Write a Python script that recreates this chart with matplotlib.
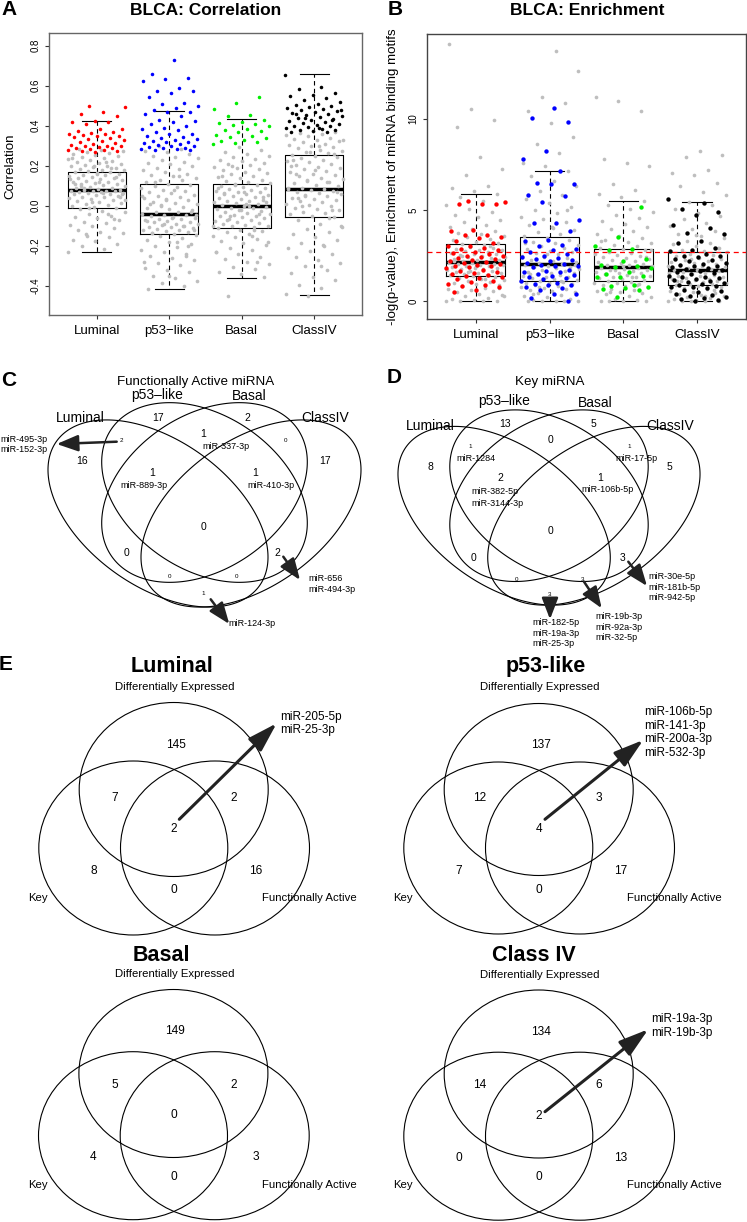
import numpy as np
import matplotlib
matplotlib.use('Agg')
import matplotlib.pyplot as plt
from matplotlib.patches import Ellipse, Polygon

plt.rcParams['font.family'] = ['Liberation Sans', 'DejaVu Sans']

W, H = 747, 1222

groups = ['Luminal', 'p53\u2212like', 'Basal', 'ClassIV']
point_cols = ['#ff0000', '#0000ff', '#00ee00', '#000000']
gray = '#bebebe'

# ---- panel A: correlation (box summaries) ----
corr_whislo = [-0.23, -0.415, -0.36, -0.447]
corr_q1 = [-0.01, -0.143, -0.11, -0.058]
corr_med = [0.077, -0.043, -0.002, 0.085]
corr_q3 = [0.17, 0.107, 0.108, 0.253]
corr_whishi = [0.425, 0.473, 0.433, 0.657]

corr_gray_lum = [-0.23, -0.214, -0.203, -0.192, -0.178, -0.171, -0.158, -0.149, -0.137, -0.131, -0.12, -0.113, -0.102,
                 -0.094, -0.088, -0.079, -0.071, -0.063, -0.055, -0.049, -0.041, -0.033, -0.026, -0.018, -0.012,
                 -0.006, 0.0, 0.005, 0.011, 0.014, 0.021, 0.024, 0.029, 0.035, 0.038, 0.043, 0.046, 0.05, 0.053, 0.057,
                 0.06, 0.063, 0.066, 0.068, 0.07, 0.072, 0.074, 0.075, 0.076, 0.078, 0.081, 0.085, 0.088, 0.091,
                 0.096, 0.1, 0.103, 0.107, 0.111, 0.114, 0.118, 0.121, 0.126, 0.129, 0.132, 0.137, 0.141, 0.144,
                 0.149, 0.153, 0.156, 0.161, 0.163, 0.167, 0.17, 0.173, 0.177, 0.181, 0.184, 0.189, 0.192, 0.197,
                 0.201, 0.205, 0.211, 0.214, 0.219, 0.226, 0.229, 0.236, 0.241, 0.246, 0.249, 0.256, 0.261, 0.266,
                 0.27, 0.276, 0.281, 0.286, -0.065, 0.02, 0.135, 0.22, 0.09, 0.045, 0.16, 0.11, 0.19, -0.01,
                 0.03, 0.065, 0.1, 0.145, 0.2, 0.24, -0.04, -0.14, 0.058, 0.12]
corr_gray_p53 = [-0.415, -0.402, -0.388, -0.377, -0.36, -0.352, -0.333, -0.322, -0.31, -0.298, -0.284, -0.272, -0.261,
                 -0.249, -0.241, -0.229, -0.222, -0.208, -0.2, -0.191, -0.182, -0.17, -0.161, -0.153, -0.146,
                 -0.141, -0.137, -0.131, -0.128, -0.123, -0.119, -0.117, -0.111, -0.107, -0.104, -0.099, -0.095,
                 -0.091, -0.089, -0.083, -0.079, -0.077, -0.071, -0.067, -0.065, -0.059, -0.055, -0.052, -0.047,
                 -0.044, -0.039, -0.033, -0.029, -0.021, -0.017, -0.009, -0.005, 0.003, 0.007, 0.015, 0.019, 0.027,
                 0.031, 0.039, 0.043, 0.051, 0.055, 0.063, 0.067, 0.075, 0.079, 0.087, 0.092, 0.099, 0.104,
                 0.111, 0.117, 0.127, 0.131, 0.141, 0.147, 0.156, 0.161, 0.171, 0.177, 0.186, 0.191, 0.201, 0.207,
                 0.216, 0.221, 0.231, 0.237, 0.246, 0.251, 0.261, 0.267, 0.276, 0.284, 0.3, -0.12, -0.06, 0.01,
                 -0.25, -0.09, 0.05, -0.18, 0.12, -0.03, -0.35, -0.075, -0.1, 0.0, -0.045, 0.08, -0.135, -0.2,
                 0.035, -0.28, 0.15]
corr_gray_bas = [-0.452, -0.358, -0.342, -0.331, -0.318, -0.304, -0.292, -0.281, -0.266, -0.255, -0.243, -0.232, -0.221,
                 -0.209, -0.198, -0.188, -0.176, -0.168, -0.157, -0.149, -0.14, -0.133, -0.126, -0.119, -0.113,
                 -0.108, -0.103, -0.099, -0.094, -0.089, -0.085, -0.08, -0.075, -0.071, -0.066, -0.062, -0.058,
                 -0.053, -0.049, -0.044, -0.04, -0.035, -0.031, -0.026, -0.022, -0.017, -0.013, -0.009, -0.005,
                 -0.001, 0.004, 0.008, 0.013, 0.017, 0.022, 0.026, 0.031, 0.035, 0.04, 0.044, 0.049, 0.053, 0.058,
                 0.062, 0.067, 0.071, 0.076, 0.08, 0.085, 0.089, 0.094, 0.098, 0.103, 0.106, 0.112, 0.118, 0.125,
                 0.131, 0.138, 0.144, 0.151, 0.157, 0.164, 0.17, 0.177, 0.183, 0.19, 0.196, 0.203, 0.209, 0.216,
                 0.222, 0.229, 0.236, 0.243, 0.251, 0.259, 0.268, 0.279, 0.295, -0.23, -0.15, -0.05, 0.02, 0.07,
                 0.15, -0.28, 0.11, -0.1, 0.0, -0.07, 0.045, -0.02, 0.09, -0.12, 0.2, -0.18, 0.01, 0.06, -0.04]
corr_gray_c4 = [-0.451, -0.443, -0.41, -0.395, -0.371, -0.355, -0.338, -0.319, -0.301, -0.288, -0.271, -0.255, -0.239,
                -0.226, -0.211, -0.198, -0.184, -0.171, -0.158, -0.143, -0.131, -0.118, -0.104, -0.089, -0.071,
                -0.055, -0.049, -0.042, -0.035, -0.029, -0.021, -0.015, -0.009, -0.002, 0.004, 0.011, 0.017,
                0.023, 0.029, 0.035, 0.041, 0.047, 0.053, 0.059, 0.064, 0.069, 0.074, 0.078, 0.082, 0.085, 0.091,
                0.098, 0.105, 0.112, 0.119, 0.126, 0.133, 0.14, 0.147, 0.154, 0.161, 0.168, 0.175, 0.182, 0.189,
                0.196, 0.203, 0.21, 0.217, 0.224, 0.231, 0.238, 0.245, 0.25, 0.256, 0.262, 0.268, 0.275, 0.281,
                0.287, 0.293, 0.299, 0.305, 0.311, 0.317, 0.323, 0.329, 0.335, 0.341, 0.347, 0.353, 0.359, 0.364,
                0.369, 0.372, 0.2, 0.12, 0.05, -0.1, 0.3, 0.16, -0.02, 0.27, 0.09, -0.2, 0.0, 0.07, 0.18, 0.23,
                -0.06, 0.13, 0.33, -0.3, 0.04, 0.26]

corr_red = [0.497, 0.492, 0.47, 0.46, 0.45, 0.425, 0.42, 0.42, 0.41, 0.385, 0.383, 0.375, 0.37, 0.365, 0.36, 0.36, 0.355,
            0.35, 0.35, 0.345, 0.34, 0.333, 0.33, 0.325, 0.32, 0.315, 0.31, 0.305, 0.3, 0.3, 0.298, 0.295, 0.29, 0.29,
            0.285, 0.28, 0.28, 0.275, 0.275, 0.27]
corr_blue = [0.73, 0.66, 0.64, 0.635, 0.625, 0.59, 0.575, 0.575, 0.565, 0.545, 0.515, 0.51, 0.5, 0.49, 0.48, 0.47,
             0.47, 0.46, 0.45, 0.43, 0.425, 0.42, 0.41, 0.4, 0.39, 0.385, 0.38, 0.37, 0.36, 0.36, 0.35, 0.345, 0.34,
             0.335, 0.33, 0.325, 0.32, 0.32, 0.315, 0.31, 0.305, 0.3, 0.3, 0.295, 0.29, 0.29, 0.285, 0.285, 0.28, 0.28]
corr_green = [0.545, 0.515, 0.485, 0.455, 0.45, 0.43, 0.42, 0.415, 0.41, 0.405, 0.4, 0.385, 0.38, 0.375, 0.37, 0.355,
              0.35, 0.345, 0.34, 0.33, 0.325, 0.32, 0.315, 0.31]
corr_black = [0.655, 0.595, 0.585, 0.565, 0.555, 0.55, 0.54, 0.53, 0.52, 0.51, 0.505, 0.5, 0.495, 0.49, 0.485, 0.48,
              0.475, 0.47, 0.465, 0.46, 0.455, 0.45, 0.445, 0.44, 0.435, 0.43, 0.425, 0.42, 0.415, 0.41, 0.405, 0.4,
              0.4, 0.395, 0.39, 0.385, 0.38, 0.38, 0.375, 0.37, 0.37, 0.44, 0.48, 0.39, 0.46, 0.43]

# ---- panel B: enrichment ----
enr_whislo = [0, 0, 0, 0]
enr_q1 = [1.37, 1.08, 1.08, 0.90]
enr_med = [2.16, 2.03, 1.85, 1.68]
enr_q3 = [3.14, 3.53, 2.85, 2.71]
enr_whishi = [5.85, 7.15, 5.48, 5.41]
enr_cutoff = 2.67

enr_gray_lum = [0, 0, 0, 0, 0.04, 0.12, 0.19, 0.27, 0.33, 0.41, 0.48, 0.56, 0.62, 0.69, 0.74, 0.81, 0.88, 0.93, 0.99,
                1.04, 1.1, 1.16, 1.21, 1.27, 1.33, 1.38, 1.42, 1.46, 1.5, 1.53, 1.57, 1.61, 1.64, 1.67, 1.71, 1.74,
                1.78, 1.81, 1.84, 1.88, 1.91, 1.94, 1.97, 2.0, 2.03, 2.06, 2.09, 2.12, 2.15, 2.19, 2.23, 2.27, 2.31,
                2.36, 2.4, 2.44, 2.48, 2.52, 2.57, 2.61, 2.65, 2.69, 2.74, 2.78, 2.82, 2.87, 2.91, 2.96, 3.01, 3.06,
                3.12, 3.19, 3.26, 3.33, 3.41, 3.49, 3.58, 3.67, 3.76, 3.86, 3.97, 4.08, 4.19, 4.32, 4.45, 4.59,
                4.74, 4.9, 5.08, 5.27, 5.49, 5.7, 5.85, 6.05, 6.2, 6.3, 6.9, 7.25, 7.9, 9.55, 9.95, 10.55, 14.1,
                1.2, 2.5, 0.7, 1.9, 2.2, 3.0, 1.6, 0.3]
enr_gray_p53 = [0, 0, 0, 0, 0, 0.05, 0.13, 0.2, 0.28, 0.35, 0.42, 0.49, 0.55, 0.61, 0.67, 0.72, 0.78, 0.83, 0.88, 0.93,
                0.98, 1.02, 1.06, 1.1, 1.15, 1.2, 1.25, 1.3, 1.34, 1.39, 1.43, 1.48, 1.52, 1.57, 1.61, 1.66, 1.71,
                1.75, 1.8, 1.85, 1.89, 1.94, 1.99, 2.04, 2.1, 2.16, 2.22, 2.28, 2.35, 2.42, 2.49, 2.56, 2.63, 2.7,
                2.77, 2.84, 2.92, 3.0, 3.08, 3.17, 3.26, 3.36, 3.46, 3.56, 3.67, 3.79, 3.92, 4.05, 4.19, 4.33, 4.48,
                4.64, 4.81, 4.99, 5.18, 5.38, 5.59, 5.82, 6.06, 6.32, 6.6, 6.88, 7.15, 7.4, 7.6, 8.1, 8.6, 9.0,
                9.75, 10.45, 10.85, 11.2, 12.6, 13.7, 0.4, 1.7, 2.6, 3.2, 1.1, 0.8, 2.0, 4.0, 1.5, 5.0]
enr_gray_bas = [0, 0, 0, 0, 0.06, 0.14, 0.22, 0.3, 0.37, 0.44, 0.5, 0.57, 0.63, 0.69, 0.75, 0.81, 0.87, 0.92, 0.97,
                1.02, 1.07, 1.11, 1.16, 1.21, 1.26, 1.31, 1.35, 1.4, 1.44, 1.48, 1.52, 1.56, 1.6, 1.64, 1.68, 1.72,
                1.76, 1.8, 1.84, 1.88, 1.92, 1.96, 2.0, 2.05, 2.1, 2.15, 2.2, 2.25, 2.3, 2.36, 2.42, 2.48, 2.54,
                2.6, 2.66, 2.72, 2.79, 2.86, 2.93, 3.01, 3.09, 3.18, 3.27, 3.37, 3.47, 3.58, 3.7, 3.82, 3.95, 4.09,
                4.23, 4.38, 4.54, 4.71, 4.89, 5.08, 5.28, 5.48, 5.7, 5.9, 6.1, 6.4, 7.4, 7.55, 7.8, 10.45, 10.95,
                11.2, 1.3, 0.5, 2.4, 1.9, 3.3, 0.9, 1.7, 2.8]
enr_gray_c4 = [0, 0, 0, 0, 0, 0.04, 0.1, 0.16, 0.22, 0.28, 0.34, 0.4, 0.46, 0.52, 0.58, 0.64, 0.7, 0.76, 0.82, 0.87,
               0.92, 0.96, 1.0, 1.04, 1.08, 1.12, 1.16, 1.2, 1.24, 1.28, 1.32, 1.36, 1.4, 1.44, 1.48, 1.52, 1.56,
               1.6, 1.64, 1.68, 1.72, 1.77, 1.82, 1.87, 1.92, 1.97, 2.02, 2.08, 2.14, 2.2, 2.26, 2.32, 2.39, 2.46,
               2.53, 2.6, 2.67, 2.75, 2.83, 2.92, 3.01, 3.11, 3.21, 3.32, 3.44, 3.56, 3.69, 3.83, 3.98, 4.14, 4.3,
               4.48, 4.66, 4.85, 5.05, 5.25, 5.41, 5.8, 6.0, 6.3, 6.5, 6.9, 7.0, 7.2, 7.9, 8.0, 8.24, 1.1, 0.6,
               2.3, 1.9, 0.3, 1.4, 2.9, 3.6]

enr_red = [5.5, 5.45, 5.35, 5.3, 5.3, 3.9, 3.85, 3.65, 3.6, 3.5, 3.45, 3.3, 3.2, 3.05, 3.0, 2.9, 2.85, 2.8, 2.7, 2.65,
           2.6, 2.5, 2.45, 2.4, 2.35, 2.3, 2.25, 2.2, 2.15, 2.1, 2.05, 2.0, 1.95, 1.9, 1.85, 1.8, 1.7, 1.65, 1.6, 1.55,
           1.5, 1.45, 1.4, 1.3, 1.25, 1.2, 1.1, 1.05, 0.95, 0.9, 0.85, 0.8, 0.6, 0.5]
enr_blue = [10.6, 10.05, 9.85, 8.25, 7.8, 7.15, 6.5, 6.4, 6.4, 5.8, 5.75, 5.45, 4.45, 4.3, 4.3, 3.85, 3.35, 3.3,
            3.1, 3.05, 2.85, 2.8, 2.7, 2.6, 2.5, 2.4, 2.35, 2.3, 2.25, 2.2, 2.1, 2.05, 2.0, 1.95, 1.9, 1.85, 1.7,
            1.65, 1.6, 1.6, 1.5, 1.45, 1.4, 1.3, 1.25, 1.2, 1.1, 1.0, 0.95, 0.9, 0.9, 0.8, 0.7, 0.6, 0.4, 0.4,
            0.15, 0.0]
enr_green = [5.15, 3.5, 3.05, 2.85, 2.8, 2.3, 2.2, 2.0, 1.95, 1.85, 1.8, 1.6, 1.5, 1.4, 1.35, 1.3, 0.9, 0.85,
             0.75, 0.7, 0.65, 0.6, 0.2]
enr_black = [5.6, 5.4, 5.05, 4.9, 4.7, 4.2, 4.0, 3.75, 3.7, 3.3, 3.2, 2.9, 2.8, 2.75, 2.6, 2.5, 2.45, 2.4, 2.3,
             2.25, 2.2, 2.1, 2.05, 2.0, 1.95, 1.9, 1.85, 1.8, 1.75, 1.7, 1.65, 1.6, 1.55, 1.5, 1.4, 1.35, 1.3,
             1.25, 1.2, 1.15, 1.1, 1.05, 1.0, 0.95, 0.9, 0.85, 0.8, 0.75, 0.7, 0.6, 0.55, 0.5, 0.4, 0.35, 0.3,
             0.2, 0.15, 0.1, 0.05, 0.0]

# ---- panels C/D: four-set Venn counts ----
quad_regions = ['B', 'C', 'A', 'D', 'AB', 'BC', 'CD', 'ABC', 'BCD', 'ABCD', 'AC', 'BD', 'ACD', 'ABD', 'AD']
fa_counts = [17, 2, 16, 17, 2, 1, 0, 1, 1, 0, 0, 2, 0, 0, 1]
key_counts = [13, 5, 8, 5, 1, 0, 1, 2, 1, 0, 0, 3, 0, 3, 3]
set_names = ['Luminal', 'p53\u2013like', 'Basal', 'ClassIV']

# ---- panel E: three-set Venn counts ----
# order: DE only, DE&Key, DE&FA, all, Key only, FA only, Key&FA
e_titles = ['Luminal', 'p53-like', 'Basal', 'Class IV']
e_counts = [[145, 7, 2, 2, 8, 16, 0],
            [137, 12, 3, 4, 7, 17, 0],
            [149, 5, 2, 0, 4, 3, 0],
            [134, 14, 6, 2, 0, 13, 0]]
e_mirs = [['miR-205-5p', 'miR-25-3p'],
          ['miR-106b-5p', 'miR-141-3p', 'miR-200a-3p', 'miR-532-3p'],
          [],
          ['miR-19a-3p', 'miR-19b-3p']]

fig = plt.figure(figsize=(W / 100, H / 100), dpi=100)


def px_axes(l, t, r, b):
    return fig.add_axes([l / W, 1 - b / H, (r - l) / W, (b - t) / H])


def jit(n, phase):
    return ((np.arange(n) * 0.6180339887 + phase) % 1.0 - 0.5) * 0.8


def box_panel(ax, lo, q1, med, q3, hi, grays, cols, s_gray, s_col, lw_med, frame):
    stats = [dict(med=med[i], q1=q1[i], q3=q3[i], whislo=lo[i], whishi=hi[i], fliers=[]) for i in range(4)]
    ax.bxp(stats, positions=[1, 2, 3, 4], widths=0.8, showfliers=False, capwidths=0.4,
           boxprops=dict(color='black', lw=0.8), medianprops=dict(color='black', lw=lw_med, solid_capstyle='butt'),
           whiskerprops=dict(color='black', lw=0.8, ls=(0, (4, 3))), capprops=dict(color='black', lw=0.8))
    for i, g in enumerate(grays):
        ax.scatter(i + 1 + jit(len(g), 0.13 * i), g, s=s_gray, color=gray, lw=0, zorder=3)
    for i, c in enumerate(cols):
        ax.scatter(i + 1 + jit(len(c), 0.37 + 0.21 * i), c, s=s_col, color=point_cols[i], lw=0, zorder=4)
    ax.set_xlim(0.34, 4.66)
    ax.set_xticks([1, 2, 3, 4])
    ax.set_xticklabels(groups, fontsize=9.5)
    for sp in ax.spines.values():
        sp.set_color(frame)
        sp.set_linewidth(1.0)
    ax.tick_params(axis='x', length=3, width=0.8, pad=4, color='#333333')
    ax.tick_params(axis='y', length=3, width=0.8, pad=3, labelsize=7, color='#333333')


def rotate_ylabels(ax):
    for lab in ax.get_yticklabels():
        lab.set_rotation(90)
        lab.set_va('center')


axA = px_axes(49, 33, 362, 315)
box_panel(axA, corr_whislo, corr_q1, corr_med, corr_q3, corr_whishi,
          [corr_gray_lum, corr_gray_p53, corr_gray_bas, corr_gray_c4],
          [corr_red, corr_blue, corr_green, corr_black], 7, 6.5, 2.5, '#666666')
axA.set_ylim(-0.5465, 0.8635)
axA.set_yticks([-0.4, -0.2, 0.0, 0.2, 0.4, 0.6, 0.8])
axA.set_yticklabels(['-0.4', '-0.2', '0.0', '0.2', '0.4', '0.6', '0.8'])
rotate_ylabels(axA)

axB = px_axes(427, 34, 746, 319)
box_panel(axB, enr_whislo, enr_q1, enr_med, enr_q3, enr_whishi,
          [enr_gray_lum, enr_gray_p53, enr_gray_bas, enr_gray_c4],
          [enr_red, enr_blue, enr_green, enr_black], 7, 10, 2.5, '#444444')
axB.set_ylim(-0.98, 14.65)
axB.set_yticks([0, 5, 10])
rotate_ylabels(axB)
axB.axhline(enr_cutoff, color='#ff0000', lw=0.9, ls=(0, (4, 3)), zorder=5)

# overlay in pixel coordinates for the Venn diagrams, text and arrows
ov = fig.add_axes([0, 0, 1, 1])
ov.set_xlim(0, W)
ov.set_ylim(H, 0)
ov.axis('off')

# four-set outline: (centre dx, centre dy, half width, half vertical chord, shear) relative to the
# top crossing of the two inner ellipses
quad_shapes = [(-46.5, 105.5, 110.0, 82.75, 0.397), (0.0, 84.5, 102.8, 84.5, 0.2967),
               (0.0, 84.5, 102.8, 84.5, -0.2967), (46.5, 105.5, 110.0, 82.75, -0.397)]
tt = np.linspace(0, 2 * np.pi, 400, endpoint=False)


def quad(ox, oy, kx, ky):
    for cx, cy, hw, l0, m in quad_shapes:
        xs = ox + kx * (cx + hw * np.cos(tt))
        ys = oy + ky * (cy + m * hw * np.cos(tt) + l0 * np.sin(tt))
        ov.add_patch(Polygon(np.column_stack([xs, ys]), closed=True, fill=False, lw=0.8, ec='black'))


quad(204.5, 408, 1.0, 1.0)
quad(549, 415, 0.965, 0.955)


def txt(x, y, s, size, ha='center', va='center', **kw):
    ov.text(x, y, s, fontsize=size, ha=ha, va=va, **kw)


def arrow(x1, y1, x2, y2, lw=1.8, hl=1.3, hw=0.5):
    ov.annotate('', xy=(x2, y2), xytext=(x1, y1),
                arrowprops=dict(arrowstyle='-|>,head_length=%s,head_width=%s' % (hl, hw), lw=lw,
                                color='#222222', shrinkA=0, shrinkB=0, mutation_scale=10))


# panel letters and titles
for s, x, y in [('A', 9, 9.5), ('B', 395, 9.5), ('C', 8.5, 380.5), ('D', 394, 377.5), ('E', 6, 664)]:
    txt(x, y, s, 15, weight='bold')
txt(205.5, 10.5, 'BLCA: Correlation', 12.5, weight='bold')
txt(587, 10.5, 'BLCA: Enrichment', 12.5, weight='bold')
txt(10, 166, 'Correlation', 9.6, rotation=90)
txt(393, 177, '-log(p-value), Enrichment of miRNA binding motifs', 9.6, rotation=90)

# panel C / D labels
small = {'AB', 'CD', 'ACD', 'ABD', 'AD'}
pos_c = {'B': (158.3, 417.7), 'C': (247.3, 417.7), 'A': (81.7, 461), 'D': (325, 461), 'AB': (121.7, 441),
         'BC': (203.3, 434.3), 'CD': (285, 441), 'ABC': (151.7, 473.3), 'BCD': (255, 473.3),
         'ABCD': (203.3, 526.7), 'AC': (126, 553.3), 'BD': (277.3, 553.3), 'ACD': (170, 576.7),
         'ABD': (236.7, 576.7), 'AD': (203.3, 593.3)}
pos_d = {'B': (505, 424.3), 'C': (593.3, 424.3), 'A': (430, 466.7), 'D': (669.3, 466.7), 'AB': (470, 446.7),
         'BC': (550, 440), 'CD': (629.3, 446.7), 'ABC': (500, 478.3), 'BCD': (600, 478.3),
         'ABCD': (550, 531), 'AC': (473.3, 557.7), 'BD': (622.7, 557.7), 'ACD': (516.7, 579.3),
         'ABD': (582.7, 579.3), 'AD': (550, 595)}
for counts, pos in [(fa_counts, pos_c), (key_counts, pos_d)]:
    for r, n in zip(quad_regions, counts):
        x, y = pos[r]
        txt(x, y, str(n), 4.5 if r in small else 7.5)

txt(196, 381.5, 'Functionally Active miRNA', 9.6)
for s, (x, y) in zip(set_names, [(80.8, 418), (156.7, 394.5), (249.7, 396.5), (325, 418)]):
    txt(x, y, s, 10)
txt(550, 381.5, 'Key miRNA', 9.6)
for s, (x, y) in zip(set_names, [(430, 426.5), (504, 401.5), (595, 403), (670, 426.5)]):
    txt(x, y, s, 10)

mir = 6.5
# panel C miRNA names
txt(0, 439, 'miR-495-3p', mir, ha='left')
txt(0, 449.5, 'miR-152-3p', mir, ha='left')
arrow(116.7, 441.7, 56.7, 444)
txt(225.5, 446.7, 'miR-337-3p', mir)
txt(144, 485, 'miR-889-3p', mir)
txt(270.5, 485.7, 'miR-410-3p', mir)
txt(308.3, 578.3, 'miR-656', mir, ha='left')
txt(308.3, 590, 'miR-494-3p', mir, ha='left')
arrow(283.3, 556.7, 300, 580)
txt(228.3, 623.3, 'miR-124-3p', mir, ha='left')
arrow(210.7, 599.3, 229.3, 624)

# panel D miRNA names
txt(476.3, 458.3, 'miR-1284', mir)
txt(636, 458.3, 'miR-17-5p', mir)
txt(471, 492, 'miR-382-5p', mir, ha='left')
txt(471, 503.5, 'miR-3144-3p', mir, ha='left')
txt(607.5, 490, 'miR-106b-5p', mir)
for k, s in enumerate(['miR-30e-5p', 'miR-181b-5p', 'miR-942-5p']):
    txt(648.3, 576.7 + 10.4 * k, s, mir, ha='left')
arrow(628.3, 561.7, 647, 586)
for k, s in enumerate(['miR-19b-3p', 'miR-92a-3p', 'miR-32-5p']):
    txt(595, 616.7 + 10.4 * k, s, mir, ha='left')
arrow(584, 581.7, 601.7, 608.3)
for k, s in enumerate(['miR-182-5p', 'miR-19a-3p', 'miR-25-3p']):
    txt(532.3, 622.3 + 10.8 * k, s, mir, ha='left')
arrow(550, 601.7, 550, 619.3)

# ---- panel E: three-set Venn diagrams ----
e_anchor = [(173.7, 787), (538.7, 787), (173.4, 1073.5), (538.7, 1074)]
e_title_xy = [(171.7, 671.7), (545.8, 671.7), (161, 960.7), (534, 960.7)]
e_offsets = [(2, -42), (-59, 11), (60, 11), (0.5, 42), (-80, 84), (82, 84), (0, 103)]
e_circles = [[(0, 2.5), (-40.4, 61), (41.3, 61)], [(0, 2.5), (-40.4, 61), (41.3, 61)],
             [(0, 0), (-40.4, 62.2), (41.3, 62.2)], [(0, 0), (-40.4, 62.2), (41.3, 62.2)]]
e_ry = [87, 86, 84, 84]
e_arrows = [((179.3, 819.3), (276.7, 723.3)), ((545, 819.3), (643.3, 740)), None,
            ((545, 1111.7), (648.3, 1029.3))]
e_mir_xy = [(280, 716.7), (644, 711.7), None, (651, 1019.3)]

for k in range(4):
    cx, cy = e_anchor[k]
    for dx, dy in e_circles[k]:
        ov.add_patch(Ellipse((cx + dx, cy + dy), 189, 2 * e_ry[k], fill=False, lw=0.8, ec='black'))
    tx, ty = e_title_xy[k]
    txt(tx, ty, e_titles[k], 15.5, va='baseline', weight='bold')
    txt(cx + 1, cy - 99.5, 'Differentially Expressed', 8.2)
    txt(cx - 135.5, cy + 111, 'Key', 8.2)
    txt(cx + 135.5, cy + 111, 'Functionally Active', 8.2)
    for n, (dx, dy) in zip(e_counts[k], e_offsets):
        txt(cx + dx, cy + dy, str(n), 8.6)
    if e_arrows[k] is not None:
        (x1, y1), (x2, y2) = e_arrows[k]
        arrow(x1, y1, x2, y2, lw=2.2, hl=1.8, hw=0.55)
        mx, my = e_mir_xy[k]
        for j, s in enumerate(e_mirs[k]):
            txt(mx, my + 13.8 * j, s, 8.5, ha='left')

fig.savefig('out.png', dpi=100)
